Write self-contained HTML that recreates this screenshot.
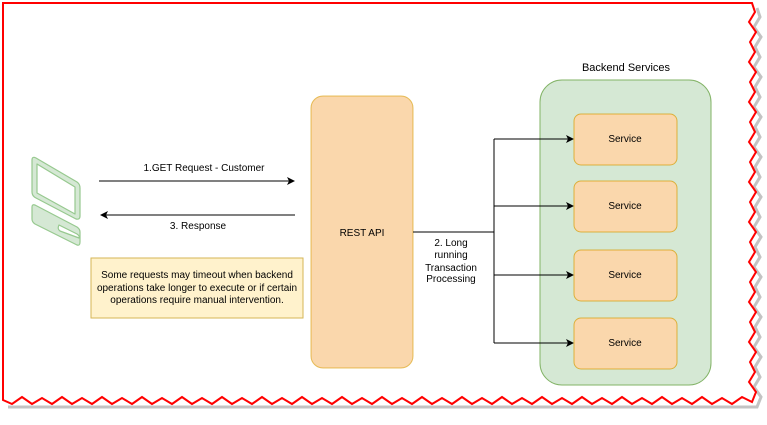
<!DOCTYPE html>
<html><head><style>
body{margin:0;background:#fff;width:767px;height:420px;overflow:hidden;font-family:"Liberation Sans",sans-serif}
</style></head><body>
<svg width="767" height="420" viewBox="0 0 767 420" xmlns="http://www.w3.org/2000/svg" font-family="Liberation Sans, sans-serif">
<defs>
<marker id="a" markerWidth="8" markerHeight="8" refX="7" refY="4" orient="auto" markerUnits="userSpaceOnUse"><path d="M0,0 L8,4 L0,8 L2,4z" fill="#000"/></marker>
</defs>
<path d="M757,8 L760,17 L754,27 L761,37 L755,47 L760,57 L754,67 L761,77 L755,87 L760,97 L754,107 L761,117 L755,127 L760,137 L754,147 L761,157 L755,167 L760,177 L754,187 L761,197 L755,207 L760,217 L754,227 L761,237 L755,247 L760,257 L754,267 L761,277 L755,287 L760,297 L754,307 L761,317 L755,327 L760,337 L754,347 L761,357 L755,367 L760,377 L754,387 L761,397 L757,407 L8,407" fill="none" stroke="#888" stroke-width="3" opacity="0.5"/>
<path d="M3,3 L752,3 L755,12 L749,22 L756,32 L750,42 L755,52 L749,62 L756,72 L750,82 L755,92 L749,102 L756,112 L750,122 L755,132 L749,142 L756,152 L750,162 L755,172 L749,182 L756,192 L750,202 L755,212 L749,222 L756,232 L750,242 L755,252 L749,262 L756,272 L750,282 L755,292 L749,302 L756,312 L750,322 L755,332 L749,342 L756,352 L750,362 L755,372 L749,382 L756,392 L752,402 L742,397 L732,404 L722,398 L712,404 L702,397 L692,404 L682,398 L672,404 L662,397 L652,404 L642,398 L632,404 L622,397 L612,404 L602,398 L592,404 L582,397 L572,404 L562,398 L552,404 L542,397 L532,404 L522,398 L512,404 L502,397 L492,404 L482,398 L472,404 L462,397 L452,404 L442,398 L432,404 L422,397 L412,404 L402,398 L392,404 L382,397 L372,404 L362,398 L352,404 L342,397 L332,404 L322,398 L312,404 L302,397 L292,404 L282,398 L272,404 L262,397 L252,404 L242,398 L232,404 L222,397 L212,404 L202,398 L192,404 L182,397 L172,404 L162,398 L152,404 L142,397 L132,404 L122,398 L112,404 L102,397 L92,404 L82,398 L72,404 L62,397 L52,404 L42,398 L32,404 L22,397 L12,404 L3,400 Z" fill="#fff" stroke="#f00" stroke-width="2"/>

<!-- laptop -->
<g fill="#d5e8d4" stroke="#97c98f" stroke-width="1.2" stroke-linejoin="round">
<path d="M32,160 Q32,156 36,158 L77,182 Q80,184 80,188 L80,216 Q80,220 76,219 L36,198 Q32,196 32,192 Z"/>
<path d="M37,164 L75,187 L75,214 L37,193 Z" fill="#fff"/>
<path d="M32,207 Q32,204 35,205 L77,227 Q80,229 80,232 L80,242 Q80,246 77,245 L35,224 Q32,222 32,219 Z"/>
<path d="M59,225 L77,234 Q80,236 79,238 L60,231 Q57,229 59,225 Z" fill="#fff"/>
</g>

<line x1="99" y1="181" x2="294" y2="181" stroke="#000" marker-end="url(#a)"/>
<text x="204" y="171" font-size="10" text-anchor="middle">1.GET Request - Customer</text>
<line x1="295" y1="215" x2="101" y2="215" stroke="#000" marker-end="url(#a)"/>
<text x="198" y="229" font-size="10" text-anchor="middle">3. Response</text>

<rect x="91" y="258" width="212" height="60" fill="#fff2cc" stroke="#d6b656"/>
<text font-size="10" text-anchor="middle"><tspan x="197" y="278">Some requests may timeout when backend</tspan><tspan x="197" y="291">operations take longer to execute or if certain</tspan><tspan x="197" y="303">operations require manual intervention.</tspan></text>

<rect x="311" y="96" width="102" height="272" rx="12" fill="#fad7ac" stroke="#d79b00" stroke-opacity="0.6"/>
<text x="362" y="236" font-size="10" text-anchor="middle">REST API</text>

<text x="626" y="71" font-size="11" text-anchor="middle">Backend Services</text>
<rect x="540" y="80" width="171" height="305" rx="22" fill="#d5e8d4" stroke="#82b366"/>

<polyline points="413,232 494,232" fill="none" stroke="#000"/>
<line x1="494" y1="139" x2="494" y2="343" stroke="#000"/>
<g stroke="#000" marker-end="url(#a)">
<line x1="494" y1="139" x2="573" y2="139"/>
<line x1="494" y1="206" x2="573" y2="206"/>
<line x1="494" y1="275" x2="573" y2="275"/>
<line x1="494" y1="343" x2="573" y2="343"/>
</g>
<text font-size="10" text-anchor="middle"><tspan x="451" y="246">2. Long</tspan><tspan x="451" y="258">running</tspan><tspan x="451" y="271">Transaction</tspan><tspan x="451" y="282">Processing</tspan></text>

<g fill="#fad7ac" stroke="#d79b00" stroke-opacity="0.7">
<rect x="574" y="114" width="103" height="51" rx="7"/>
<rect x="574" y="181" width="103" height="51" rx="7"/>
<rect x="574" y="250" width="103" height="51" rx="7"/>
<rect x="574" y="318" width="103" height="51" rx="7"/>
</g>
<g font-size="10" text-anchor="middle">
<text x="625" y="142">Service</text>
<text x="625" y="209">Service</text>
<text x="625" y="278">Service</text>
<text x="625" y="346">Service</text>
</g>
</svg>
</body></html>
